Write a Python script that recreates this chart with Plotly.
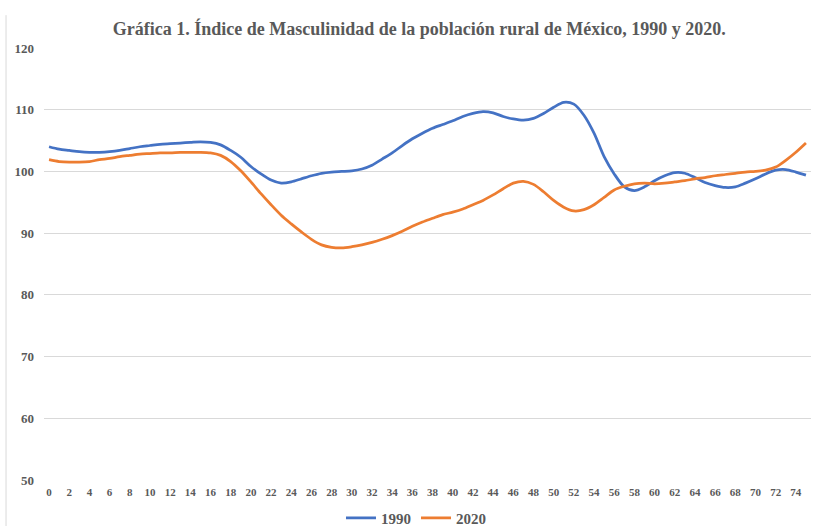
import plotly.graph_objects as go

ages = list(range(0, 76))
tick_vals = list(range(0, 76, 2))
tick_text = [str(v) for v in tick_vals]

idx_1990 = [
    104.0, 103.6, 103.4, 103.2, 103.1, 103.1, 103.2, 103.4, 103.7, 104.0,
    104.2, 104.4, 104.5, 104.6, 104.7, 104.8, 104.7, 104.3, 103.4, 102.3,
    100.8, 99.6, 98.6, 98.1, 98.3, 98.8, 99.3, 99.7, 99.9, 100.0,
    100.1, 100.4, 101.0, 102.0, 103.0, 104.2, 105.3, 106.2, 107.0, 107.6,
    108.2, 108.9, 109.4, 109.7, 109.5, 108.9, 108.5, 108.3, 108.6, 109.4,
    110.4, 111.2, 110.9, 109.1, 106.2, 102.4, 99.6, 97.5, 96.9, 97.5,
    98.5, 99.3, 99.8, 99.7, 99.0, 98.2, 97.7, 97.4, 97.5, 98.1,
    98.8, 99.6, 100.2, 100.3, 99.9, 99.4,
]

idx_2020 = [
    101.9, 101.6, 101.5, 101.5, 101.6, 101.9, 102.1, 102.4, 102.6, 102.8,
    102.9, 103.0, 103.0, 103.1, 103.1, 103.1, 103.0, 102.6, 101.6, 100.1,
    98.3, 96.4, 94.6, 92.9, 91.5, 90.2, 89.0, 88.1, 87.7, 87.6,
    87.8, 88.1, 88.5, 89.0, 89.6, 90.3, 91.1, 91.8, 92.4, 93.0,
    93.4, 93.9, 94.6, 95.3, 96.2, 97.2, 98.1, 98.4, 97.9, 96.7,
    95.3, 94.2, 93.6, 93.8, 94.6, 95.8, 97.0, 97.6, 98.0, 98.1,
    98.0, 98.1, 98.3, 98.5, 98.8, 99.0, 99.3, 99.5, 99.7, 99.9,
    100.0, 100.2, 100.7, 101.8, 103.1, 104.6,
]

title_text = "Gráfica 1. Índice de Masculinidad de la población rural de México, 1990 y 2020."

FONT = "Liberation Serif, Times New Roman, serif"
GRAY = "#595959"

fig = go.Figure()
fig.add_trace(go.Scatter(x=ages, y=idx_1990, mode="lines", name="1990",
                         line=dict(color="#4472C4", width=2.75, shape="spline", smoothing=0.8)))
fig.add_trace(go.Scatter(x=ages, y=idx_2020, mode="lines", name="2020",
                         line=dict(color="#ED7D31", width=2.75, shape="spline", smoothing=0.8)))

fig.update_layout(
    width=814, height=526,
    margin=dict(l=44, r=3, t=48, b=46, autoexpand=False),
    paper_bgcolor="white", plot_bgcolor="white",
    title=dict(text="<b>" + title_text + "</b>", x=0.515, xanchor="center",
               y=0.945, yanchor="middle",
               font=dict(family=FONT, size=18, color=GRAY)),
    font=dict(family=FONT, color=GRAY),
    showlegend=True,
    legend=dict(orientation="h", x=0.485, xanchor="center", y=-0.088, yanchor="middle",
                font=dict(family=FONT, size=15, color=GRAY, weight="bold"),
                itemwidth=30, tracegroupgap=0),
    xaxis=dict(range=[-0.5, 75.5], tickmode="array", tickvals=tick_vals, ticktext=tick_text,
               showgrid=False, zeroline=False, showline=False, ticks="",
               tickfont=dict(family=FONT, size=11, color=GRAY, weight="bold"), ticklabelstandoff=4,
               automargin=False, fixedrange=True),
    yaxis=dict(range=[50, 120], dtick=10, tick0=50, showgrid=True, gridcolor="#D9D9D9",
               gridwidth=1, zeroline=False, showline=False, ticks="",
               tickfont=dict(family=FONT, size=13, color=GRAY, weight="bold"), ticklabelstandoff=9,
               automargin=False, fixedrange=True),
    shapes=[dict(type="line", xref="paper", yref="paper", x0=-0.0495, x1=-0.0495,
                 y0=1.076, y1=-0.11, line=dict(color="#D9D9D9", width=1))],
)

fig.write_html("out.html", config={"displayModeBar": False},
               post_script="document.body.style.margin='0';document.body.style.overflow='hidden';")
